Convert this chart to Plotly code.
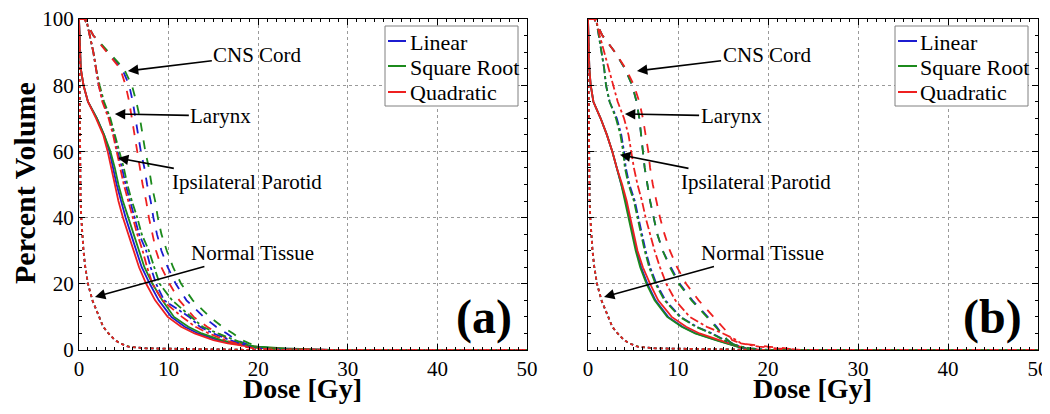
import plotly.graph_objects as go

# ---------------- data (dose in Gy at given percent volume) ----------------
VOL = [100, 100, 95, 90, 85, 80, 75, 70, 65, 60, 55, 50, 45, 40, 35, 30, 25,
       20, 15, 10, 7, 5, 3, 2, 1, 0.5, 0, 0]

METHODS = ["Linear", "Square Root", "Quadratic"]
COLORS = ["#1c1cd0", "#1c8a1c", "#ee2020"]

# Panel (a)
PAR_A = {
    "Linear":      [0, 0, 0.05, 0.1, 0.2, 0.5, 1.0, 2.0, 2.8, 3.4, 3.8, 4.2, 4.7, 5.2, 5.8, 6.4, 7.0, 7.9, 8.9, 10.3, 11.8, 13.3, 15.5, 17.0, 19.5, 22, 28, 50],
    "Square Root": [0, 0, 0.05, 0.1, 0.2, 0.5, 1.0, 2.0, 2.8, 3.5, 4.0, 4.4, 4.9, 5.5, 6.1, 6.7, 7.3, 8.2, 9.3, 10.6, 12.2, 13.7, 15.9, 17.5, 20.0, 23, 28, 50],
    "Quadratic":   [0, 0, 0.05, 0.1, 0.2, 0.5, 1.0, 1.9, 2.7, 3.2, 3.6, 4.0, 4.4, 4.9, 5.5, 6.1, 6.7, 7.5, 8.5, 9.9, 11.4, 12.9, 15.0, 16.6, 19.0, 21, 28, 50],
}
CNS_A = {
    "Linear":      [0, 0.6, 1.6, 3.2, 4.8, 5.6, 6.0, 6.3, 6.6, 6.9, 7.3, 7.6, 8.0, 8.3, 8.7, 9.2, 9.9, 10.8, 12.0, 13.9, 15.3, 16.5, 17.5, 18.5, 19.5, 21.0, 25, 50],
    "Square Root": [0, 0.6, 1.6, 3.3, 5.0, 5.9, 6.4, 6.8, 7.1, 7.4, 7.8, 8.1, 8.5, 8.8, 9.2, 9.8, 10.5, 11.4, 12.7, 14.6, 16.0, 17.2, 18.2, 19.0, 20.0, 21.5, 26, 50],
    "Quadratic":   [0, 0.6, 1.6, 3.1, 4.6, 5.2, 5.6, 5.9, 6.2, 6.5, 6.8, 7.1, 7.5, 7.8, 8.2, 8.6, 9.2, 10.1, 11.2, 12.8, 14.3, 15.5, 16.8, 17.8, 19.0, 20.5, 24, 50],
}
LAR_A = {
    "Linear":      [0, 0.8, 1.2, 1.6, 1.9, 2.2, 2.7, 3.4, 3.9, 4.3, 4.8, 5.2, 5.7, 6.2, 6.7, 7.5, 8.0, 8.6, 9.5, 12.3, 13.5, 15.0, 16.8, 18.0, 19.0, 20.0, 24, 50],
    "Square Root": [0, 0.8, 1.2, 1.6, 1.9, 2.3, 2.8, 3.5, 4.0, 4.5, 5.0, 5.4, 5.9, 6.5, 7.0, 7.8, 8.4, 9.0, 10.4, 12.6, 13.8, 15.5, 17.3, 18.3, 19.3, 20.5, 25, 50],
    "Quadratic":   [0, 0.8, 1.2, 1.6, 1.9, 2.2, 2.6, 3.3, 3.8, 4.2, 4.6, 5.0, 5.5, 6.0, 6.5, 7.1, 7.6, 8.2, 9.3, 11.5, 13.0, 14.5, 16.3, 17.5, 18.5, 19.5, 23, 50],
}
NT_A = {
    "Linear":      [0, 0, 0.02, 0.03, 0.04, 0.05, 0.06, 0.07, 0.08, 0.09, 0.1, 0.12, 0.18, 0.25, 0.35, 0.5, 0.7, 1.0, 1.5, 2.2, 2.7, 3.3, 4.0, 4.6, 5.5, 7.5, 20, 50],
    "Square Root": [0, 0, 0.02, 0.03, 0.04, 0.05, 0.06, 0.07, 0.08, 0.09, 0.1, 0.12, 0.18, 0.26, 0.36, 0.5, 0.7, 1.0, 1.5, 2.2, 2.7, 3.3, 4.0, 4.6, 5.6, 7.5, 20, 50],
    "Quadratic":   [0, 0, 0.02, 0.03, 0.04, 0.05, 0.06, 0.07, 0.08, 0.09, 0.1, 0.12, 0.17, 0.25, 0.35, 0.5, 0.7, 1.0, 1.5, 2.2, 2.7, 3.3, 4.0, 4.6, 5.5, 7.4, 20, 50],
}

# Panel (b)
PAR_B = {
    "Linear":      [0, 0, 0.03, 0.06, 0.15, 0.3, 0.6, 1.4, 2.1, 2.7, 3.2, 3.75, 4.2, 4.6, 5.0, 5.4, 5.9, 6.6, 7.5, 8.9, 10.5, 12.0, 14.3, 15.6, 16.6, 17.3, 19, 50],
    "Square Root": [0, 0, 0.03, 0.06, 0.15, 0.3, 0.6, 1.4, 2.1, 2.7, 3.2, 3.7, 4.1, 4.5, 4.9, 5.3, 5.8, 6.5, 7.4, 8.8, 10.4, 11.9, 14.2, 15.5, 16.5, 17.2, 19, 50],
    "Quadratic":   [0, 0, 0.03, 0.06, 0.15, 0.3, 0.6, 1.4, 2.1, 2.7, 3.2, 3.8, 4.3, 4.7, 5.1, 5.5, 6.1, 6.9, 7.8, 9.3, 10.9, 12.4, 14.6, 15.8, 16.8, 17.5, 19, 50],
}
CNS_B = {
    "Linear":      [0, 0.7, 1.6, 3.0, 4.1, 4.9, 5.4, 5.7, 5.9, 6.1, 6.3, 6.6, 6.9, 7.3, 7.7, 8.3, 9.2, 10.2, 11.6, 13.3, 14.3, 14.8, 15.5, 16.0, 17.0, 17.5, 18, 50],
    "Square Root": [0, 0.7, 1.6, 3.0, 4.1, 4.9, 5.4, 5.7, 5.9, 6.1, 6.3, 6.6, 6.9, 7.3, 7.7, 8.3, 9.1, 10.1, 11.5, 13.2, 14.2, 14.8, 15.5, 16.0, 17.0, 17.5, 18, 50],
    "Quadratic":   [0, 0.7, 1.6, 3.0, 4.2, 5.1, 5.7, 6.1, 6.4, 6.7, 6.9, 7.2, 7.6, 8.0, 8.5, 9.1, 9.9, 10.9, 12.3, 14.0, 15.0, 15.6, 16.0, 17.0, 20.0, 22.0, 23, 50],
}
LAR_B = {
    "Linear":      [0, 0.9, 1.2, 1.5, 1.8, 2.0, 2.4, 3.2, 3.7, 4.0, 4.2, 4.6, 5.2, 5.6, 6.0, 6.4, 6.9, 7.6, 8.6, 10.3, 12.1, 13.8, 15.2, 15.8, 17.0, 18.0, 20, 50],
    "Square Root": [0, 0.9, 1.2, 1.5, 1.8, 2.0, 2.4, 3.1, 3.6, 3.9, 4.1, 4.5, 5.1, 5.5, 5.9, 6.3, 6.8, 7.5, 8.5, 10.2, 12.0, 13.7, 15.1, 15.8, 17.0, 18.0, 20, 50],
    "Quadratic":   [0, 0.9, 1.3, 1.8, 2.3, 2.8, 3.3, 4.0, 4.5, 4.8, 5.1, 5.5, 6.0, 6.4, 6.9, 7.4, 8.0, 8.7, 9.7, 11.3, 13.2, 15.0, 16.5, 17.0, 19.0, 21.0, 24, 50],
}
NT_B = NT_A

X_TICKS = [0, 10, 20, 30, 40, 50]
Y_TICKS = [0, 20, 40, 60, 80, 100]

# ---------------- figure ----------------
FONT = "Liberation Serif, Times New Roman, serif"
fig = go.Figure()

structures = [("PAR", "solid"), ("CNS", "dash"), ("LAR", "dashdot"), ("NT", "dot")]
panels = [
    ("x", "y", {"PAR": PAR_A, "CNS": CNS_A, "LAR": LAR_A, "NT": NT_A}),
    ("x2", "y2", {"PAR": PAR_B, "CNS": CNS_B, "LAR": LAR_B, "NT": NT_B}),
]
for xa, ya, data in panels:
    for key, dash in structures:
        for m, c in zip(METHODS, COLORS):
            fig.add_trace(go.Scatter(
                x=data[key][m], y=VOL, xaxis=xa, yaxis=ya, mode="lines",
                line=dict(color=c, width=1.8, dash=dash),
                name=m, showlegend=False, hoverinfo="skip"))

# the page body has an 8px margin; figure coordinates are page pixels minus 8
OFF = 8
W, H = 1042, 398
def px_x(p):
    return (p - OFF) / W
def px_y(p):
    return 1 - (p - OFF) / H

axis_common = dict(
    showline=True, linecolor="black", linewidth=1, mirror="ticks",
    ticks="inside", ticklen=6, tickcolor="black",
    showgrid=True, gridcolor="#9a9a9a", griddash="dot", gridwidth=1,
    zeroline=False, automargin=False, ticklabeloverflow="allow",
    tickfont=dict(family=FONT, size=21, color="black"),
)
fig.update_layout(
    width=W, height=H,
    margin=dict(l=0, r=0, t=0, b=0),
    paper_bgcolor="white", plot_bgcolor="white",
    showlegend=False,
    xaxis=dict(domain=[px_x(79), px_x(527)], range=[0, 50], tickvals=X_TICKS,
               minor=dict(dtick=1, ticks="inside", ticklen=3, tickcolor="black", showgrid=False),
               anchor="y", **axis_common),
    yaxis=dict(domain=[px_y(350), px_y(19)], range=[0, 100], tickvals=Y_TICKS,
               minor=dict(dtick=5, ticks="inside", ticklen=3, tickcolor="black", showgrid=False),
               anchor="x", **axis_common),
    xaxis2=dict(domain=[px_x(588), px_x(1038)], range=[0, 50], tickvals=X_TICKS,
                minor=dict(dtick=1, ticks="inside", ticklen=3, tickcolor="black", showgrid=False),
                anchor="y2", **axis_common),
    yaxis2=dict(domain=[px_y(350), px_y(19)], range=[0, 100], tickvals=Y_TICKS,
                showticklabels=False,
                minor=dict(dtick=5, ticks="inside", ticklen=3, tickcolor="black", showgrid=False),
                anchor="x2", **axis_common),
)

def text_ann(text, x, y, size, angle=0, xanchor="center"):
    return dict(text=text, x=px_x(x), y=px_y(y), xref="paper", yref="paper",
                xanchor=xanchor, yanchor="middle", textangle=angle, showarrow=False,
                font=dict(family=FONT, size=size, color="black"))

ann = [
    text_ann("<b>Percent Volume</b>", 25, 183, 30, -90),
    text_ann("<b>Dose [Gy]</b>", 302, 388, 28),
    text_ann("<b>Dose [Gy]</b>", 812, 388, 28),
    text_ann("<b>(a)</b>", 484, 317, 48),
    text_ann("<b>(b)</b>", 992, 317, 48),
]
shapes = []

# legends drawn as boxed keys (page pixels): box left, box right, key line x0, x1, text x
LEGENDS = [(385, 518, 388, 406, 408), (895, 1028, 898, 917, 918)]
ROWS_Y = [41, 66, 92]
for bx0, bx1, lx0, lx1, tx in LEGENDS:
    shapes.append(dict(type="rect", xref="paper", yref="paper",
                       x0=px_x(bx0), x1=px_x(bx1), y0=px_y(106), y1=px_y(26),
                       line=dict(color="#808080", width=1), fillcolor="white", layer="above"))
    for m, c, ry in zip(METHODS, COLORS, ROWS_Y):
        shapes.append(dict(type="line", xref="paper", yref="paper",
                           x0=px_x(lx0), x1=px_x(lx1), y0=px_y(ry), y1=px_y(ry),
                           line=dict(color=c, width=2), layer="above"))
        ann.append(text_ann(m, tx, ry + 1, 22, xanchor="left"))

# arrow labels: (text, tip x, tip y, text centre x, text centre y) in data units
LABELS_A = [("CNS Cord", 5.46, 84.3, 19.96, 89.1),
            ("Larynx", 4.0, 71.3, 15.83, 70.7),
            ("Ipsilateral Parotid", 4.35, 58.0, 18.73, 50.8),
            ("Normal Tissue", 1.78, 16.0, 19.4, 29.3)]
LABELS_B = [("CNS Cord", 5.44, 84.3, 19.9, 89.1),
            ("Larynx", 4.1, 71.3, 15.9, 70.7),
            ("Ipsilateral Parotid", 3.55, 59.0, 18.7, 50.8),
            ("Normal Tissue", 1.78, 16.0, 19.4, 29.3)]
for labels, xr, yr in [(LABELS_A, "x", "y"), (LABELS_B, "x2", "y2")]:
    for t, tx, ty, ax, ay in labels:
        ann.append(dict(text=t, x=tx, y=ty, ax=ax, ay=ay, xref=xr, yref=yr, axref=xr, ayref=yr,
                        xanchor="center", yanchor="middle",
                        showarrow=True, arrowhead=2, arrowsize=1.3, arrowwidth=1.6,
                        arrowcolor="black", bgcolor="rgba(0,0,0,0)",
                        font=dict(family=FONT, size=21, color="black")))
fig.update_layout(annotations=ann, shapes=shapes)

fig.write_html("out.html")
